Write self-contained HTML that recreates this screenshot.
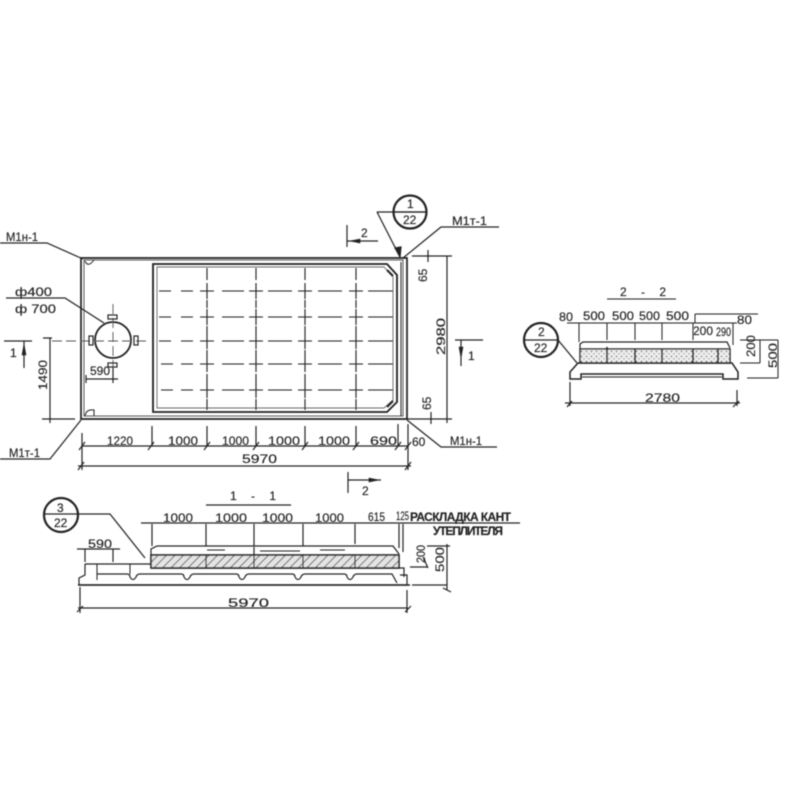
<!DOCTYPE html>
<html><head><meta charset="utf-8"><style>
html,body{margin:0;padding:0;background:#fff;width:800px;height:800px;overflow:hidden}
svg{display:block}
text{font-family:"Liberation Sans",sans-serif;fill:#222;stroke:#222;stroke-width:.15;font-size:12px}
</style></head><body>
<svg width="800" height="800" viewBox="0 0 800 800" xmlns="http://www.w3.org/2000/svg">
<defs>
<filter id="b" x="-5%" y="-5%" width="110%" height="110%"><feGaussianBlur stdDeviation="0.4"/></filter>
<pattern id="h" width="6" height="6" patternUnits="userSpaceOnUse" patternTransform="rotate(45)"><rect width="6" height="6" fill="#e4e4e4"/><line x1="0" y1="0" x2="0" y2="6" stroke="#444" stroke-width="1.6"/></pattern>
<pattern id="d" width="5" height="5" patternUnits="userSpaceOnUse"><rect width="5" height="5" fill="#eee"/><circle cx="1.5" cy="1.5" r=".7" fill="#444"/><circle cx="4" cy="3.8" r=".6" fill="#555"/></pattern>
<path id="c" d="M-7 0H7M0-8V8"/>
</defs>
<g filter="url(#b)" fill="none" stroke="#222" stroke-width="1.2">
<!-- plan outer -->
<path d="M81 258H407V419H81Z" stroke-width="1.7"/>
<path d="M84 260H403V416H84Z" stroke="#555" stroke-width="1"/>
<path d="M153 264H387L397 275V402L387 412H153Z" stroke-width="1.8"/>
<path d="M157 267H384L393 277V400L384 408H157Z" stroke="#666" stroke-width=".9"/>
<path d="M401 262V416" stroke-width="1"/>
<path d="M387 270L393 276M387 407L393 401" stroke-width="2"/>
<path d="M85 261Q88 268 94 260M85 416Q86 409 94 410V416" stroke-width="1"/>
<!-- grid -->
<g stroke-width="1.1">
<use href="#c" x="207" y="291"/><use href="#c" x="256" y="291"/><use href="#c" x="305" y="291"/><use href="#c" x="356" y="291"/>
<use href="#c" x="207" y="317"/><use href="#c" x="256" y="317"/><use href="#c" x="305" y="317"/><use href="#c" x="356" y="317"/>
<use href="#c" x="207" y="341"/><use href="#c" x="256" y="341"/><use href="#c" x="305" y="341"/><use href="#c" x="356" y="341"/>
<use href="#c" x="207" y="364"/><use href="#c" x="256" y="364"/><use href="#c" x="305" y="364"/><use href="#c" x="356" y="364"/>
<use href="#c" x="207" y="390"/><use href="#c" x="256" y="390"/><use href="#c" x="305" y="390"/><use href="#c" x="356" y="390"/>
<path d="M159 291h12M181 291h12M222 291h22M268 291h24M318 291h24M368 291h25
M159 317h12M181 317h12M222 317h22M268 317h24M318 317h24M368 317h25
M159 341h12M181 341h12M222 341h22M268 341h24M318 341h24M368 341h25
M161 364h12M181 364h12M222 364h22M268 364h24M318 364h24M368 364h25
M161 390h12M181 390h12M222 390h22M268 390h24M318 390h24M368 390h25"/>
<path d="M207 268v12M207 300v8M207 326v7M207 350v6M207 374v8M207 399v11
M256 268v12M256 300v8M256 326v7M256 350v6M256 374v8M256 399v11
M305 268v12M305 300v8M305 326v7M305 350v6M305 374v8M305 399v11
M356 268v12M356 300v8M356 326v7M356 350v6M356 374v8M356 399v11"/>
</g>
<!-- hole -->
<circle cx="113" cy="340" r="18" stroke-width="1.8"/>
<path d="M113 304V368M52 341H150" stroke-width=".9" stroke-dasharray="10 4" stroke="#555"/>
<rect x="108" y="315" width="9" height="4"/><rect x="108" y="363" width="9" height="4"/>
<rect x="89" y="336" width="4" height="9"/><rect x="134" y="336" width="4" height="9"/>
<!-- leaders -->
<path d="M0 243H47L83 259"/>
<path d="M6 298H65L104 323"/>
<path d="M0 459H50L81 420"/>
<path d="M377 212H427M377 212L400 257M403 258L441 227H499"/>
<path d="M407 420L441 447H497"/>
<path d="M395 248L400 257L401 247Z" fill="#222"/>
<!-- section marks -->
<path d="M347 225V247M347 241H378"/>
<path d="M4 341H32M24 341V368"/>
<path d="M455 340H483M461 340V366"/>
<path d="M348 472V493M348 480H381"/>
<path d="M350 241L360 239V243Z M22 355L24 344L26 355Z M459 347L461 358L463 347Z M369 478L379 480L369 482Z" fill="#222" stroke-width=".6"/>
<!-- dims plan -->
<path d="M50 338V423M42 419H75M43 338H52"/>
<path d="M82 446H408M78 466H411M82 433V470M408 424V470M152 426V446M207 426V446M256 426V446M305 426V446M356 426V446M398 424V446"/>
<path d="M79 450L85 442M148 450L154 442M204 450L210 442M253 450L259 442M302 450L308 442M353 450L359 442M395 450L401 442M405 450L411 442M78 470L84 462M405 470L411 462"/>
<path d="M447 256V423M412 256H452M406 419H452M428 250V262M431 412V424"/>
<path d="M86 379H118M86 375V383M113 368V383"/>
<!-- bubbles -->
<circle cx="410" cy="212" r="16.5" stroke-width="2.2"/><path d="M393 212H427"/>
<circle cx="61" cy="515" r="17" stroke-width="2.2"/><path d="M44 514H110L145 558"/>
<circle cx="541" cy="340" r="17" stroke-width="2.2"/><path d="M524 340H558L577 363"/>
<!-- section 1-1 -->
<path d="M206 505H291M141 523H520M152 524V546M206 524V546M254 524V546M303 524V546M355 524V544M399 524V548M403 524V552"/>
<path d="M151 555V549L157 546H393L399 554"/>
<rect x="151" y="555" width="248" height="13" fill="url(#h)" stroke-width="1.6"/>
<path d="M206 555V568M254 547V568M303 555V568M355 555V568"/>
<path d="M207 550H225M260 551H300M320 550H345" stroke-width=".9"/>
<path d="M85 564H151M151 568H404V577M85 564V575L79 578V585H407V575H400" stroke-width="1.2"/>
<path d="M97 564V580M130 564V574" stroke-width="1"/>
<path d="M97 574H127Q130 574 130 577Q133 582 136 577Q137 574 140 574H181Q184 574 184 577Q187 582 190 577Q191 574 194 574H236Q239 574 239 577Q242 582 245 577Q246 574 249 574H292Q295 574 295 577Q298 582 301 577Q302 574 305 574H344Q347 574 347 577Q350 582 353 577Q354 574 357 574H392L397 583" stroke-width="1.2"/>
<path d="M78 585H410" stroke-width="1.4"/>
<path d="M77 549H120M85 549V562M113 549V562M80 587V613M407 590V613M78 608H408M77 612L83 606M405 612L411 606"/>
<path d="M410 567H428M412 585H447M447 544V590M427 546H450M423 557L428 568M443 588L451 592"/>
<!-- section 2-2 -->
<path d="M607 299H676M567 323H737M695 314H758M695 314V323M579 323V342M607 323V340M635 323V340M662 323V340M693 323V340M733 323V345" stroke-width="1"/>
<path d="M580 349V344L583 342H727L730 348"/>
<rect x="580" y="349" width="150" height="14" fill="url(#d)" stroke-width="1.4"/>
<path d="M607 347V363M635 349V363M662 349V363M693 349V363M718 349V363" stroke-width="1.6"/>
<path d="M578 363H732L738 372V379H723V374H581V379H570V372Z" stroke-width="1.5"/>
<path d="M582 377H722" stroke-width="1"/>
<path d="M570 382V406M737 390V406M565 403H740M567 407L572 401M733 407L739 401"/>
<path d="M740 340H778M740 363H760M747 378H778M760 340V363M778 340V378" stroke-width="1"/>
</g>
<g filter="url(#b)">
<text x="6" y="241" font-size="11" textLength="32" lengthAdjust="spacingAndGlyphs">М1н-1</text>
<text x="15" y="296" font-size="14" textLength="37" lengthAdjust="spacingAndGlyphs">ф400</text>
<text x="15" y="313" font-size="14" textLength="41" lengthAdjust="spacingAndGlyphs">ф 700</text>
<text x="10" y="357" font-size="13">1</text>
<text x="9" y="457" font-size="12" textLength="31" lengthAdjust="spacingAndGlyphs">М1т-1</text>
<text x="90" y="375" font-size="11" textLength="20" lengthAdjust="spacingAndGlyphs">590</text>
<text x="452" y="225" font-size="13" textLength="35" lengthAdjust="spacingAndGlyphs">М1т-1</text>
<text x="450" y="445" font-size="12" textLength="32" lengthAdjust="spacingAndGlyphs">М1н-1</text>
<text x="361" y="237" font-size="13">2</text>
<text x="362" y="495" font-size="13">2</text>
<text x="468" y="360" font-size="14">1</text>
<text x="107" y="445" font-size="12" textLength="26" lengthAdjust="spacingAndGlyphs">1220</text>
<text x="168" y="445" font-size="12" textLength="30" lengthAdjust="spacingAndGlyphs">1000</text>
<text x="222" y="445" font-size="12" textLength="27" lengthAdjust="spacingAndGlyphs">1000</text>
<text x="268" y="445" font-size="12" textLength="32" lengthAdjust="spacingAndGlyphs">1000</text>
<text x="318" y="445" font-size="12" textLength="32" lengthAdjust="spacingAndGlyphs">1000</text>
<text x="370" y="445" font-size="13" textLength="27" lengthAdjust="spacingAndGlyphs">690</text>
<text x="412" y="446" font-size="11">60</text>
<text x="242" y="463" font-size="13" textLength="35" lengthAdjust="spacingAndGlyphs">5970</text>
<text x="407" y="208" font-size="12">1</text>
<text x="403" y="224" font-size="12">22</text>
<text x="57" y="512" font-size="13">3</text>
<text x="54" y="527" font-size="12">22</text>
<text x="538" y="336" font-size="12">2</text>
<text x="534" y="352" font-size="12">22</text>
<text x="230" y="500" font-size="15" textLength="46">1 - 1</text>
<text x="163" y="522" font-size="12" textLength="30" lengthAdjust="spacingAndGlyphs">1000</text>
<text x="215" y="522" font-size="12" textLength="32" lengthAdjust="spacingAndGlyphs">1000</text>
<text x="262" y="522" font-size="12" textLength="31" lengthAdjust="spacingAndGlyphs">1000</text>
<text x="315" y="522" font-size="12" textLength="29" lengthAdjust="spacingAndGlyphs">1000</text>
<text x="368" y="521" font-size="11" textLength="17" lengthAdjust="spacingAndGlyphs">615</text>
<text x="396" y="520" font-size="9" textLength="13" lengthAdjust="spacingAndGlyphs">125</text>
<text x="410" y="521" font-size="7.5" textLength="101" font-weight="bold">РАСКЛАДКА КАНТ</text>
<text x="433" y="535" font-size="7" textLength="70" font-weight="bold">УТЕПЛИТЕЛЯ</text>
<text x="88" y="548" font-size="11" textLength="24" lengthAdjust="spacingAndGlyphs">590</text>
<text x="228" y="607" font-size="14" textLength="41" lengthAdjust="spacingAndGlyphs">5970</text>
<text x="620" y="296" font-size="15" textLength="46">2 - 2</text>
<text x="559" y="321" font-size="11" textLength="14" lengthAdjust="spacingAndGlyphs">80</text>
<text x="583" y="320" font-size="11" textLength="22" lengthAdjust="spacingAndGlyphs">500</text>
<text x="612" y="320" font-size="11" textLength="22" lengthAdjust="spacingAndGlyphs">500</text>
<text x="639" y="320" font-size="11" textLength="21" lengthAdjust="spacingAndGlyphs">500</text>
<text x="666" y="320" font-size="11" textLength="23" lengthAdjust="spacingAndGlyphs">500</text>
<text x="737" y="324" font-size="10" textLength="15" lengthAdjust="spacingAndGlyphs">80</text>
<text x="693" y="335" font-size="9" textLength="20" lengthAdjust="spacingAndGlyphs">200</text>
<text x="716" y="336" font-size="9" textLength="15" lengthAdjust="spacingAndGlyphs">290</text>
<text x="645" y="402" font-size="13" textLength="35" lengthAdjust="spacingAndGlyphs">2780</text>
<text transform="translate(47 390) rotate(-90)" font-size="13" textLength="30" lengthAdjust="spacingAndGlyphs">1490</text>
<text transform="translate(445 355) rotate(-90)" font-size="15" textLength="37" lengthAdjust="spacingAndGlyphs">2980</text>
<text transform="translate(427 282) rotate(-90)" font-size="12">65</text>
<text transform="translate(431 410) rotate(-90)" font-size="12">65</text>
<text transform="translate(425 563) rotate(-90)" font-size="12" textLength="18" lengthAdjust="spacingAndGlyphs">200</text>
<text transform="translate(444 572) rotate(-90)" font-size="12" textLength="25" lengthAdjust="spacingAndGlyphs">500</text>
<text transform="translate(755 357) rotate(-90)" font-size="11" textLength="22" lengthAdjust="spacingAndGlyphs">200</text>
<text transform="translate(777 368) rotate(-90)" font-size="12" textLength="25" lengthAdjust="spacingAndGlyphs">500</text>
</g>
</svg>
</body></html>
